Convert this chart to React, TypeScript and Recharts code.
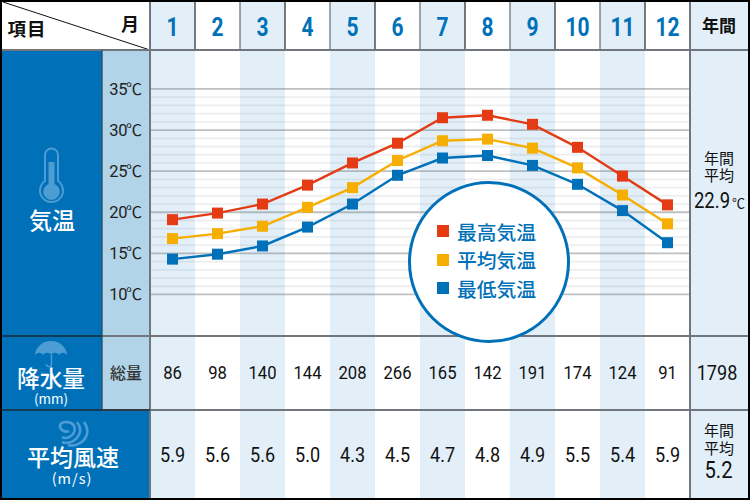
import React from "react";
import { ComposedChart, Line, XAxis, YAxis, ReferenceArea, ReferenceLine, Legend } from "recharts";

const months = ["1","2","3","4","5","6","7","8","9","10","11","12"];
const highTemp = [19.1,19.9,21.0,23.3,26.0,28.4,31.5,31.8,30.7,27.9,24.4,20.9];
const avgTemp = [16.8,17.4,18.3,20.6,23.0,26.3,28.7,28.9,27.8,25.4,22.1,18.6];
const lowTemp = [14.3,14.9,15.9,18.2,21.0,24.5,26.6,26.9,25.7,23.4,20.2,16.3];
const rainfall = ["86","98","140","144","208","266","165","142","191","174","124","91"];
const windSpeed = ["5.9","5.6","5.6","5.0","4.3","4.5","4.7","4.8","4.9","5.5","5.4","5.9"];
const majorTicks = [10,15,20,25,30,35];
const minorTicks = [11,12,13,14,16,17,18,19,21,22,23,24,26,27,28,29,31,32,33,34];
const annualRain = "1798";
const annualTemp = "22.9";
const annualWind = "5.2";

const series = [
  { key: "high", name: "最高気温", color: "#E43B14" },
  { key: "avg", name: "平均気温", color: "#F6AE00" },
  { key: "low", name: "最低気温", color: "#0071B9" },
];

const data = months.map((month, i) => ({
  month, high: highTemp[i], avg: avgTemp[i], low: lowTemp[i],
}));

const BLUE = "#0071B9";
const PANEL = "#B2D4E8";
const BAND = "#E2EFF8";
const GRAY = "#70767B";
const ICON = "#4D9CD3";
const JP = '"Noto Sans CJK JP", sans-serif';
const NUM = 'Roboto, "Noto Sans CJK JP", sans-serif';

function T({ x, y, size, sx = 1, fill = "#111", weight = 500, family = NUM, spacing = 0, children }: any) {
  return (
    <text
      transform={`translate(${x},${y}) scale(${sx},1)`}
      textAnchor="middle"
      fontSize={size}
      fill={fill}
      fontWeight={weight}
      fontFamily={family}
      letterSpacing={spacing}
    >
      {children}
    </text>
  );
}

function MonthTick({ x, payload, index }: any) {
  return (
    <g>
      {index % 2 === 0 && <rect x={x - 22.5} y={2} width={45} height={48} fill={BAND} />}
      <T x={x} y={36} size={25} sx={0.84} weight={700} fill={BLUE}>{payload.value}</T>
      <T x={x} y={379} size={18.5} sx={0.9} weight={400}>{rainfall[index]}</T>
      <T x={x} y={462} size={21} sx={0.86} weight={400}>{windSpeed[index]}</T>
    </g>
  );
}

function TempTick({ y, payload }: any) {
  return (
    <text x={125.5} y={y + 6} textAnchor="middle" fontFamily={NUM} fontSize={16.5} fill="#222" letterSpacing={-0.4}>
      {payload.value}
      <tspan fontSize={16} fontFamily={JP} dx={-1}>℃</tspan>
    </text>
  );
}

function SquareDot({ cx, cy, color }: any) {
  return <rect x={cx - 5.5} y={cy - 5.5} width={11} height={11} fill={color} />;
}

function LegendCircle({ payload }: any) {
  return (
    <div style={{
      width: 162, height: 162, boxSizing: "border-box", borderRadius: "50%",
      border: `3.5px solid ${BLUE}`, background: "#fff", position: "relative",
    }}>
      {(payload ?? []).map((p: any, i: number) => (
        <div key={p.value} style={{
          position: "absolute", left: 26, top: 33 + i * 28.5, display: "flex", alignItems: "center",
          height: 28, fontFamily: JP, fontSize: 19.8, fontWeight: 500, color: BLUE, whiteSpace: "nowrap",
        }}>
          <span style={{ width: 12, height: 12, background: p.color, marginRight: 8, display: "block" }} />
          {p.value}
        </div>
      ))}
    </div>
  );
}

function Background() {
  return (
    <svg width={750} height={500} style={{ position: "absolute", left: 0, top: 0 }}>
      <rect x={0} y={0} width={750} height={500} fill="#fff" />
      <rect x={2} y={50} width={100} height={448} fill={BLUE} />
      <rect x={102} y={50} width={48} height={360} fill={PANEL} />
      <rect x={2} y={410} width={148} height={88} fill={BLUE} />
      <rect x={690} y={2} width={58} height={496} fill={BAND} />
    </svg>
  );
}

function Overlay() {
  const seps = months.slice(1).map((_, i) => 150 + 45 * (i + 1));
  return (
    <svg width={750} height={500} style={{ position: "absolute", left: 0, top: 0, zIndex: 2, pointerEvents: "none" }}>
      <line x1={3} y1={2} x2={150} y2={50} stroke="#111" strokeWidth={1} />
      <T x={27} y={36} size={18.5} family={JP} weight={700} spacing={1} fill="#111">項目</T>
      <T x={130} y={31} size={18} family={JP} weight={700} fill="#111">月</T>
      <T x={719} y={32} size={17} family={JP} weight={700} fill="#111">年間</T>
      {seps.map((x, i) => (
        <line key={x} x1={x} y1={2} x2={x} y2={50} stroke={i % 2 === 0 ? "#333" : GRAY} strokeWidth={1.3} />
      ))}
      <line x1={150} y1={2} x2={150} y2={498} stroke={GRAY} strokeWidth={2} />
      <line x1={690} y1={2} x2={690} y2={498} stroke={GRAY} strokeWidth={2} />
      <line x1={2} y1={50} x2={748} y2={50} stroke={GRAY} strokeWidth={2} />
      <line x1={102} y1={336} x2={748} y2={336} stroke={GRAY} strokeWidth={2} />
      <line x1={102} y1={410} x2={748} y2={410} stroke={GRAY} strokeWidth={2} />
      <line x1={2} y1={336} x2={102} y2={336} stroke="#1a2a35" strokeWidth={1.5} />
      <line x1={2} y1={410} x2={150} y2={410} stroke="#1a2a35" strokeWidth={1.5} />
      <line x1={102} y1={50} x2={102} y2={410} stroke="#2a4a60" strokeWidth={1.3} />
      <rect x={1} y={1} width={748} height={498} fill="none" stroke="#000" strokeWidth={2} />

      <T x={52} y={229} size={23} family={JP} fill="#fff">気温</T>
      <T x={51} y={387} size={22.7} family={JP} fill="#fff">降水量</T>
      <T x={51} y={404} size={13.5} family={JP} weight={400} fill="#fff">(mm)</T>
      <T x={73} y={466} size={23} family={JP} fill="#fff">平均風速</T>
      <T x={72} y={484} size={14.5} family={JP} weight={400} spacing={1} fill="#fff">(m/s)</T>
      <T x={126} y={379} size={16} family={JP} fill="#333">総量</T>

      <path d="M45 181 V155 a6.5 6.5 0 0 1 13 0 V181 a11.5 11.5 0 1 1 -13 0 Z" fill="none" stroke={ICON} strokeWidth={2} />
      <path d="M48.5 162 h6 V184 a8.2 8.2 0 1 1 -6 0 Z" fill={ICON} />
      <path d="M51 338 v3 C61 341 67 349 67 355 C64 352 61 352 59 355 C57 352 53 352 51.5 355 C49 352 45 352 43 355 C41 352 38 352 35 355 C35 349 41 341 51 341 Z" fill={ICON} />
      <path d="M51.5 355 V364 a2.6 2.6 0 0 1 -5.2 0" fill="none" stroke={ICON} strokeWidth={1.4} />
      <g fill="none" stroke={ICON} strokeWidth={2.6}>
        <path d="M69 431 C65 433 60 430 60 426 C60 422 66 421 71 423 C75 425 76 430 73 434 C70 438 65 439 62 437" />
        <path d="M77 422 C81 427 81 433 77 438 C73 442 67 444 62 442" />
        <path d="M84 422 C89 429 88 436 83 441 C78 445 72 446 68 445" />
      </g>

      <T x={719} y={164} size={15} family={JP} weight={400}>年間</T>
      <T x={719} y={181} size={15} family={JP} weight={400}>平均</T>
      <T x={712} y={208} size={21.5} sx={0.86} weight={400}>{annualTemp}</T>
      <T x={738.5} y={208} size={13} family={JP} weight={400}>℃</T>
      <T x={717} y={380} size={20.5} sx={0.88} weight={400}>{annualRain}</T>
      <T x={719} y={436} size={15} family={JP} weight={400}>年間</T>
      <T x={719} y={454} size={15} family={JP} weight={400}>平均</T>
      <T x={718.5} y={478} size={23.5} sx={0.86} weight={400}>{annualWind}</T>
    </svg>
  );
}

export default function App() {
  return (
    <div style={{ position: "absolute", left: 0, top: 0, width: 750, height: 500 }}>
      <Background />
      <ComposedChart
        width={750}
        height={500}
        data={data}
        margin={{ top: 2, right: 60, bottom: 2, left: 102 }}
        style={{ position: "absolute", left: 0, top: 0 }}
      >
        <XAxis
          dataKey="month"
          orientation="top"
          height={48}
          scale="band"
          padding={{ left: 0, right: 0 }}
          interval={0}
          axisLine={false}
          tickLine={false}
          tick={<MonthTick />}
        />
        <YAxis
          width={48}
          domain={[-14.76, 39.74]}
          ticks={majorTicks}
          interval={0}
          allowDataOverflow
          axisLine={false}
          tickLine={false}
          tick={<TempTick />}
        />
        {months.filter((_, i) => i % 2 === 0).map((m) => (
          <ReferenceArea key={m} x1={m} x2={m} fill={BAND} fillOpacity={1} stroke="none" />
        ))}
        {minorTicks.map((v) => (
          <ReferenceLine key={v} y={v} stroke="rgba(120,125,130,0.13)" strokeWidth={1.8} />
        ))}
        {majorTicks.map((v) => (
          <ReferenceLine key={v} y={v} stroke="rgba(110,115,120,0.45)" strokeWidth={1.8} />
        ))}
        {series.map((s) => (
          <Line
            key={s.key}
            dataKey={s.key}
            name={s.name}
            stroke={s.color}
            strokeWidth={2.4}
            isAnimationActive={false}
            legendType="square"
            dot={(p: any) => <SquareDot key={p.index} cx={p.cx} cy={p.cy} color={s.color} />}
          />
        ))}
        <Legend
          layout="horizontal"
          verticalAlign="middle"
          align="center"
          itemSorter={null}
          content={<LegendCircle />}
          wrapperStyle={{ left: 408, top: 181, width: 162, height: 162, bottom: "auto", right: "auto", margin: 0, zIndex: 3 }}
        />
      </ComposedChart>
      <Overlay />
    </div>
  );
}
